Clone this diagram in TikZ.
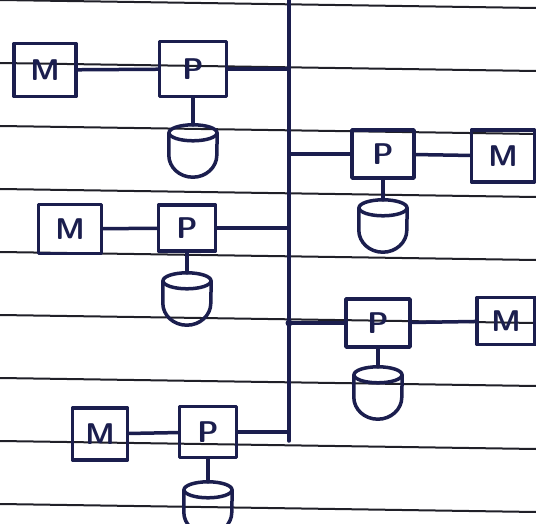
\documentclass[tikz,border=0pt]{standalone}
\usetikzlibrary{positioning}

\definecolor{ink}{HTML}{1B1E4E}
\definecolor{ruling}{HTML}{202028}

\tikzset{
	pen/.style={draw=ink, line width=3.5pt, line join=round, line cap=round},
	mbox/.style={pen, minimum width=60pt, minimum height=50pt, inner sep=0pt,
		text=ink, font=\sffamily\bfseries\fontsize{30}{32}\selectfont},
	pbox/.style={mbox},
	disk/.style={minimum width=48pt, minimum height=52pt, inner sep=0pt},
	rule/.style={draw=ruling, line width=2pt}
}

\begin{document}
\begin{tikzpicture}[x=1pt, y=-1pt]
	\clip (0,0) rectangle (536,524);
	\fill[white] (0,0) rectangle (536,524);

	% ruled lines of the sheet
	\foreach \i in {0,...,8}
		\draw[rule] (0,{\i*63}) -- (536,{\i*63+8});

	% common bus
	\coordinate (bustop) at (289,0);
	\coordinate (busend) at (289,441);
	\draw[pen] (bustop) -- (busend);

	% sites on the left
	\node[mbox, minimum width=62pt, minimum height=53pt] (m1) at (45,70) {M};
	\node[pbox, minimum width=67pt, minimum height=55pt] (p1) at (193,69) {P};
	\node[disk] (d1) at (193,151) {};

	\node[mbox, minimum width=63pt, minimum height=49pt] (m2) at (70,229) {M};
	\node[pbox, minimum width=57pt, minimum height=46pt] (p2) at (187,228) {P};
	\node[disk] (d2) at (187,299) {};

	\node[mbox, minimum width=55pt, minimum height=52pt] (m3) at (100,434) {M};
	\node[pbox, minimum width=57pt, minimum height=51pt] (p3) at (208,432) {P};
	\node[disk] (d3) at (208,508) {};

	% sites on the right
	\node[pbox, minimum width=62pt, minimum height=48pt] (p4) at (383,154) {P};
	\node[mbox, minimum width=63pt, minimum height=52pt] (m4) at (503,156) {M};
	\node[disk] (d4) at (383,226) {};

	\node[pbox, minimum width=64pt, minimum height=48pt] (p5) at (378,323) {P};
	\node[mbox, minimum width=58pt, minimum height=47pt] (m5) at (506,321) {M};
	\node[disk] (d5) at (378,393) {};

	% memory -- processor -- bus
	\foreach \n in {1,...,5} {
		\draw[pen] (m\n) -- (p\n);
		\draw[pen] (p\n) -- (p\n -| bustop);
		\draw[pen] (p\n) -- (d\n);
	}
	\fill[ink] (p5 -| bustop) circle (3.5pt);

	% disks
	\foreach \d in {d1,d2,d3,d4,d5} {
		\draw[pen] ([yshift=-8pt]\d.north) ellipse [x radius=24pt, y radius=8pt];
		\draw[pen] ([yshift=-8pt]\d.north west) -- ([yshift=22pt]\d.south west)
			arc [start angle=180, end angle=360, x radius=24pt, y radius=22pt]
			-- ([yshift=-8pt]\d.north east);
	}
\end{tikzpicture}
\end{document}
